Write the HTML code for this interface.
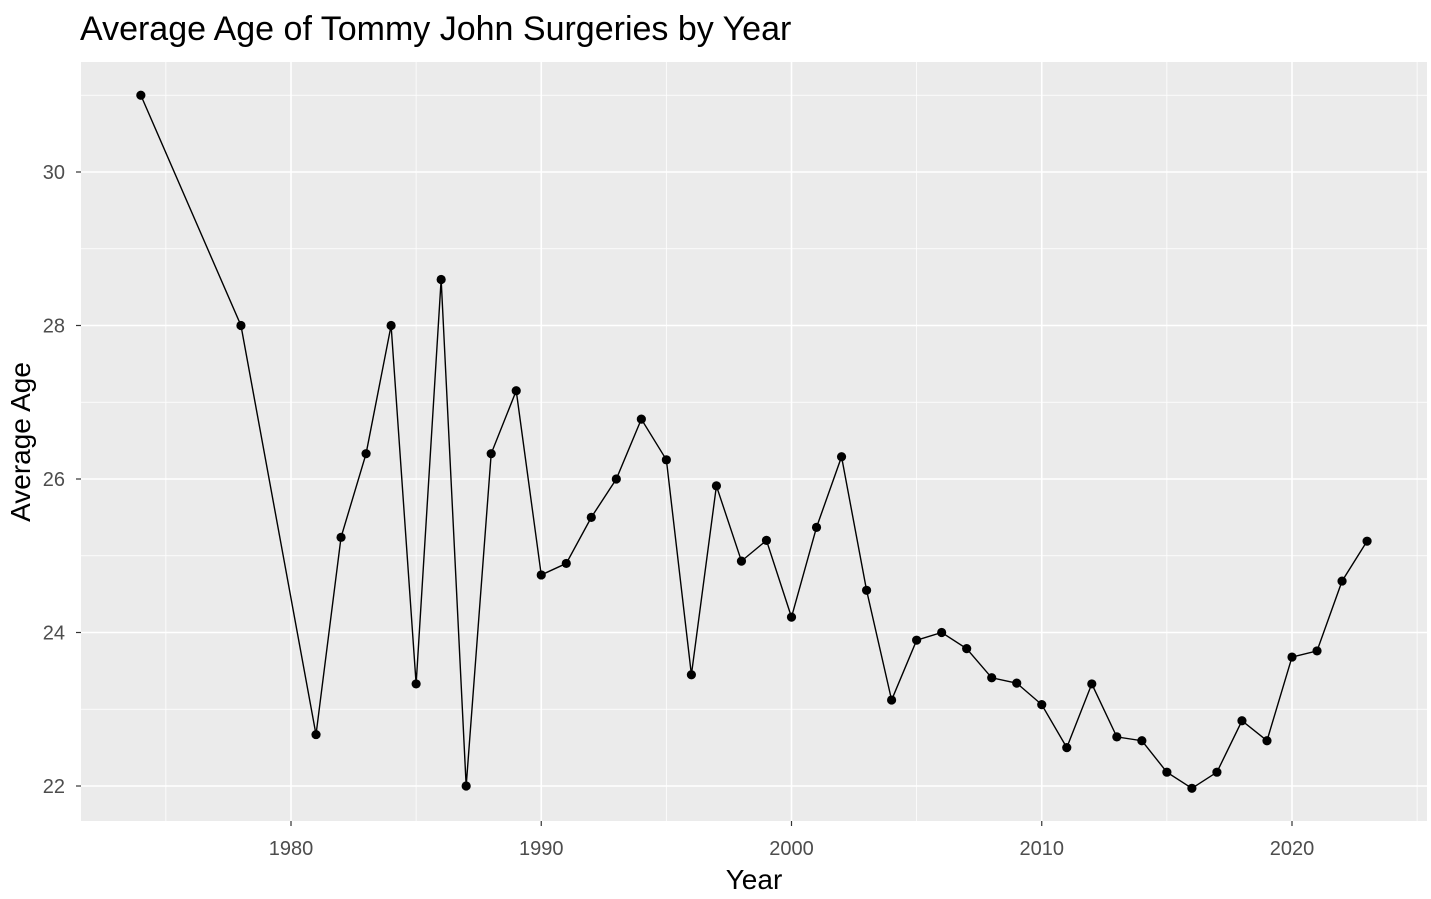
<!DOCTYPE html>
<html><head><meta charset="utf-8">
<style>
html,body{margin:0;padding:0;background:#fff;}
svg{display:block;font-family:"Liberation Sans",Arial,sans-serif;}
</style></head>
<body>
<svg id="chart" width="1431" height="899" viewBox="0 0 1431 899">
<text x="80" y="40" font-size="34" fill="#000">Average Age of Tommy John Surgeries by Year</text>
<rect x="81" y="62" width="1346" height="759" fill="#ebebeb"/>
<g id="grid"></g>
<g id="marks"></g>
<g id="axes"></g>
<text x="754" y="889" font-size="28" text-anchor="middle" fill="#000">Year</text>
<text transform="translate(30,442) rotate(-90)" font-size="28" text-anchor="middle" fill="#000">Average Age</text>
</svg>
<script>
const years = [1974,1978,1981,1982,1983,1984,1985,1986,1987,1988,1989,1990,1991,1992,1993,1994,1995,1996,1997,1998,1999,2000,2001,2002,2003,2004,2005,2006,2007,2008,2009,2010,2011,2012,2013,2014,2015,2016,2017,2018,2019,2020,2021,2022,2023];
const ages = [31,28,22.67,25.24,26.33,28,23.33,28.6,22,26.33,27.15,24.75,24.9,25.5,26,26.78,26.25,23.45,25.91,24.93,25.2,24.2,25.37,26.29,24.55,23.12,23.9,24,23.79,23.41,23.34,23.06,22.5,23.33,22.64,22.59,22.18,21.97,22.18,22.85,22.59,23.68,23.76,24.67,25.19];
const xTicks = [1980,1990,2000,2010,2020];
const xMinor = [1975,1985,1995,2005,2015,2025];
const yTicks = [22,24,26,28,30];
const yMinor = [23,25,27,29,31];

const NS = "http://www.w3.org/2000/svg";
const X = v => 291 + (v - 1980) * (1001 / 40);
const Y = v => 786 - (v - 22) * (614 / 8);
const L = 81, R = 1427, T = 62, B = 821;
function mk(tag, attrs, parent) {
  const e = document.createElementNS(NS, tag);
  for (const k in attrs) e.setAttribute(k, attrs[k]);
  parent.appendChild(e);
  return e;
}
const grid = document.getElementById('grid');
const marks = document.getElementById('marks');
const axes = document.getElementById('axes');
yMinor.forEach(v => {
  const e = mk('line', {x1: L, x2: R, y1: Y(v), y2: Y(v), stroke: '#fff', 'stroke-width': 0.8}, grid);
  
  
});
xMinor.forEach(v => {
  const e = mk('line', {x1: X(v), x2: X(v), y1: T, y2: B, stroke: '#fff', 'stroke-width': 0.8}, grid);
  
  
});
yTicks.forEach(v => {
  const e = mk('line', {x1: L, x2: R, y1: Y(v), y2: Y(v), stroke: '#fff', 'stroke-width': 1.6}, grid);
  
  
  const t = mk('line', {x1: L - 5, x2: L, y1: Y(v), y2: Y(v), stroke: '#333', 'stroke-width': 1.2}, axes);
  
  
  const lb = mk('text', {x: L - 16, y: Y(v) + 7, 'font-size': 20, 'text-anchor': 'end', fill: '#4d4d4d'}, axes);
  lb.textContent = v;
  
  
});
xTicks.forEach(v => {
  const e = mk('line', {x1: X(v), x2: X(v), y1: T, y2: B, stroke: '#fff', 'stroke-width': 1.6}, grid);
  
  
  const t = mk('line', {x1: X(v), x2: X(v), y1: B, y2: B + 5, stroke: '#333', 'stroke-width': 1.2}, axes);
  
  
  const lb = mk('text', {x: X(v), y: B + 34, 'font-size': 20, 'text-anchor': 'middle', fill: '#4d4d4d'}, axes);
  lb.textContent = v;
  
  
});
const pts = years.map((y, i) => X(y).toFixed(2) + ',' + Y(ages[i]).toFixed(2)).join(' ');
const line = mk('polyline', {points: pts, fill: 'none', stroke: '#000', 'stroke-width': 1.4}, marks);


years.forEach((y, i) => {
  const c = mk('circle', {cx: X(y), cy: Y(ages[i]), r: 4.6, fill: '#000'}, marks);
  
  
});
</script>
</body></html>
